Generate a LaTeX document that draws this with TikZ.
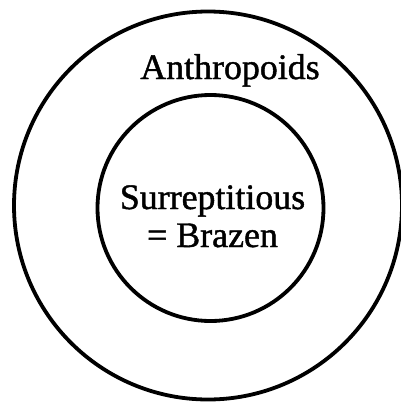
\documentclass[tikz,border=0pt]{standalone}
\usepackage{fontspec}
\setmainfont{Liberation Serif}[FakeBold=1.2]
\begin{document}
\begin{tikzpicture}[x=1bp,y=-1bp,
  ring/.style={circle,draw=black,line width=3.8bp,inner sep=0pt},
  lbl/.style={anchor=base,inner sep=0pt,font=\fontsize{36}{38}\selectfont}]
\useasboundingbox (0,0) rectangle (401,402);
\clip (0,0) rectangle (401,402);
\fill[white] (0,0) rectangle (401,402);
\node[ring,minimum size=388bp] (outer) at (208,205.5) {};
\node[ring,minimum size=226bp] (inner) at (210.5,208) {};
\node[lbl] (anthro) at (230,79) {Anthropoids};
\node[lbl] (surr) at (212.5,209) {Surreptitious};
\node[lbl] (braz) at (212.5,247) {= Brazen};
\end{tikzpicture}
\end{document}
